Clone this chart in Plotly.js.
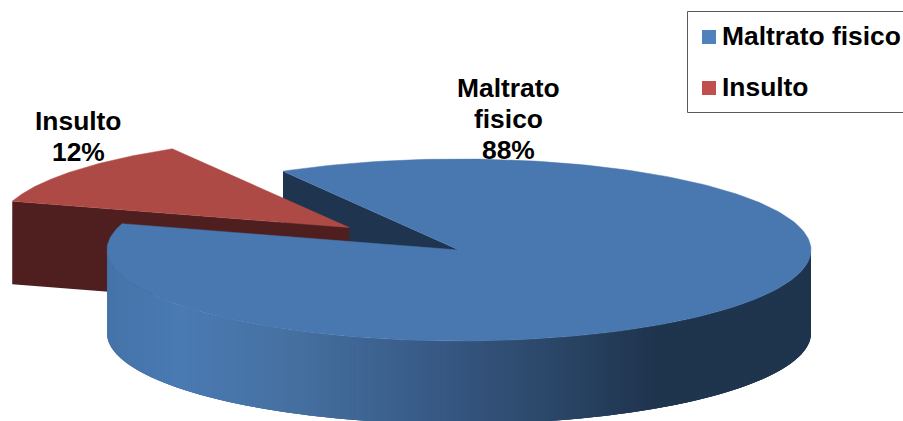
<!DOCTYPE html>
<html>
<head>
<meta charset="utf-8">
<script src="https://cdn.plot.ly/plotly-3.0.1.min.js"></script>
<style>html,body{margin:0;padding:0;background:#fff}#chart{width:903px;height:421px}</style>
</head>
<body>
<div id="chart"></div>
<script>
const categories = ['Maltrato fisico', 'Insulto'];
const values = [88, 12];
const labelLines = [['Maltrato', 'fisico'], ['Insulto']];
const legendColors = ['#4f81bd', '#c0504d'];
const topColors = ['#4977b0', '#ae4a46'];
const cutColors = ['#1f344e', '#4f1f1f'];

// Projection of the tilted disc into the plot's coordinates
const cx = 459, cy = 250, rx = 352, ry = 91, depth = 83;
const startDeg = 120, explode = 0.398;
const sideStops = [[107,[69,115,169]],[180,[74,122,179]],[300,[69,111,159]],[400,[58,95,140]],
                   [490,[50,80,119]],[560,[42,69,102]],[655,[31,52,77]],[811,[31,52,77]]];

const rad = d => d * Math.PI / 180;
const total = values.reduce((a, b) => a + b, 0);
const sweep0 = values[0] / total * 360;
const sweep1 = values[1] / total * 360;
const end0 = startDeg - sweep0;            // clockwise from the start
const redA = startDeg, redB = startDeg + sweep1;
const mid = rad((redA + redB) / 2);
const ox = cx + Math.cos(mid) * rx * explode;
const oy = cy - Math.sin(mid) * ry * explode;
const px = (c, d) => c + Math.cos(rad(d)) * rx;
const py = (c, d) => c - Math.sin(rad(d)) * ry;

function poly(xs, ys, color, w) {
  return {x: xs, y: ys, mode: 'lines', fill: 'toself', fillcolor: color,
          line: {color: color, width: w === undefined ? 0 : w},
          hoverinfo: 'skip', showlegend: false};
}
function sector(x0, y0, a, b) {
  const xs = [x0], ys = [y0], n = 240;
  for (let i = 0; i <= n; i++) {
    const d = a + (b - a) * i / n;
    xs.push(px(x0, d)); ys.push(py(y0, d));
  }
  xs.push(x0); ys.push(y0);
  return [xs, ys];
}
function sideColor(x) {
  for (let i = 1; i < sideStops.length; i++) {
    if (x <= sideStops[i][0]) {
      const [x0, c0] = sideStops[i - 1], [x1, c1] = sideStops[i];
      const f = Math.max(0, (x - x0) / (x1 - x0));
      return 'rgb(' + c0.map((c, k) => Math.round(c + (c1[k] - c) * f)).join(',') + ')';
    }
  }
  return 'rgb(31,52,77)';
}

const traces = [];

// Cut face of the large slice, seen through the gap
const ax = px(cx, startDeg), ay = py(cy, startDeg);
traces.push(poly([ax, cx, cx, ax, ax], [ay, cy, cy + depth, ay + depth, ay], cutColors[0]));

// Exploded slice: cut face and top
const bx = px(ox, redB), by = py(oy, redB);
traces.push(poly([bx, ox, ox, bx, bx], [by, oy, oy + depth, by + depth, by], cutColors[1]));
const red = sector(ox, oy, redA, redB);
traces.push(poly(red[0], red[1], topColors[1], 0.5));

// Rim of the large slice, shaded from left to right; each band runs under the next
const step = 0.75, arcPts = 8;
for (let d = 180; d < 360; d += step) {
  const e = Math.min(360, d + step * 3);
  const up = [], low = [], xs = [];
  for (let i = 0; i <= arcPts; i++) {
    const a = d + (e - d) * i / arcPts;
    xs.push(px(cx, a)); up.push(py(cy, a));
  }
  const rx2 = xs.slice().reverse(), ry2 = up.slice().reverse().map(v => v + depth);
  traces.push(poly(xs.concat(rx2, [xs[0]]), up.concat(ry2, [up[0]]),
                   sideColor((px(cx, d) + px(cx, d + step)) / 2)));
}

// Top of the large slice
const blue = sector(cx, cy, startDeg, end0);
traces.push(poly(blue[0], blue[1], topColors[0], 0.5));

// Legend swatches
const legendSwatchX = 709, legendRowY = [37, 88], legendTextX = 720;
categories.forEach((c, i) => traces.push({
  x: [legendSwatchX], y: [legendRowY[i]], name: c, mode: 'markers', showlegend: false,
  marker: {symbol: 'square', size: 14, color: legendColors[i], line: {width: 0}}, hoverinfo: 'skip'
}));

// Data labels and legend text
const font = {family: 'Liberation Sans, Arial, sans-serif', size: 26.4, color: '#000'};
const labelPos = [{x: 508.5, y: [88, 119, 150]}, {x: 78.5, y: [121, 152]}];
const annotations = [];
categories.forEach((c, i) => {
  labelLines[i].concat([values[i] + '%']).forEach((t, k) => annotations.push({
    x: labelPos[i].x, y: labelPos[i].y[k], xref: 'x', yref: 'y', text: '<b>' + t + '</b>',
    showarrow: false, xanchor: 'center', yanchor: 'middle', font: font
  }));
  annotations.push({
    x: legendTextX, y: legendRowY[i] - 1, xref: 'x', yref: 'y', text: '<b>' + c + '</b>',
    showarrow: false, xanchor: 'left', yanchor: 'middle', font: font
  });
});

Plotly.newPlot('chart', traces, {
  width: 903, height: 421,
  margin: {l: 0, r: 0, t: 0, b: 0},
  paper_bgcolor: '#fff', plot_bgcolor: '#fff',
  xaxis: {range: [0, 903], visible: false, fixedrange: true},
  yaxis: {range: [421, 0], visible: false, fixedrange: true},
  showlegend: false,
  shapes: [{type: 'rect', xref: 'x', yref: 'y', x0: 687.5, x1: 915, y0: 11.5, y1: 112.5,
            line: {color: '#595959', width: 1}, fillcolor: 'rgba(0,0,0,0)', layer: 'above'}],
  annotations: annotations
}, {displayModeBar: false});
</script>
</body>
</html>
